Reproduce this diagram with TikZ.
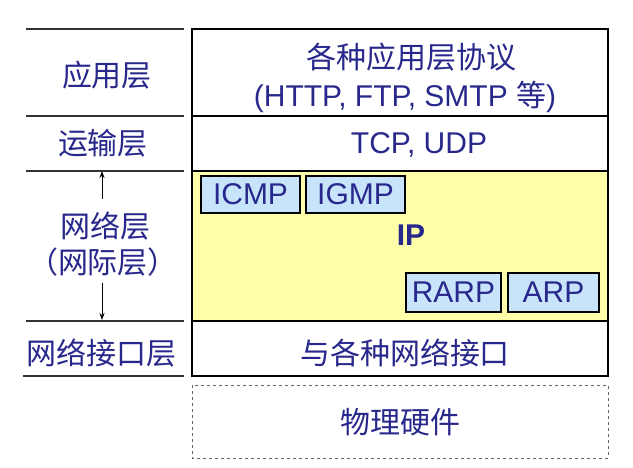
\documentclass[tikz,border=0pt]{standalone}
\usepackage{fontspec}
\setmainfont{Liberation Sans}
\newfontfamily\cjk{Noto Sans CJK SC}
\usetikzlibrary{arrows.meta}
\definecolor{txtblue}{RGB}{40,40,140}
\definecolor{ipyellow}{RGB}{255,255,170}
\definecolor{protoblue}{RGB}{200,228,250}
\def\fs{\fontsize{30}{36}\selectfont}

\begin{document}
\begin{tikzpicture}[x=1pt,y=-1pt,font=\fs,text=txtblue,
  sepline/.style={line width=1.2pt,black!80},
  layerline/.style={line width=2.6pt,black},
  proto/.style={draw=black,line width=1.4pt,fill=protoblue,
    minimum height=37pt,inner sep=0pt},
  tip/.style={-{Stealth[length=7pt,width=5pt]},line width=1pt}]
\useasboundingbox (0,0) rectangle (633,468);

% network layer background
\fill[ipyellow] (192,171) rectangle (608,321);

% left column
\foreach \y in {29,116,171,321}{
	\draw[sepline] (26,\y) -- (184,\y);
}
\draw[sepline] (23,376) -- (184,376);
\node (appl) at (107,75) {\cjk 应用层};
\node (tranl) at (103,143) {\cjk 运输层};
\node (netl) at (105,226) {\cjk 网络层};
\node (netl2) at (103,262) {\cjk （网际层）};
\node (ifl) at (102,353) {\cjk 网络接口层};

\coordinate (netup) at (102,199);
\coordinate (nettop) at (102,171);
\coordinate (netdown) at (102,283);
\coordinate (netbot) at (102,320);
\draw[tip] (netup) -- (nettop);
\draw[tip] (netdown) -- (netbot);

% protocol stack
\draw[layerline] (192,29) rectangle (608,376);
\foreach \y in {116,171,321}{
	\draw[layerline] (192,\y) -- (608,\y);
}
\node (app1) at (411,57) {\cjk 各种应用层协议};
\node (app2) at (405,97) {(HTTP, FTP, SMTP {\cjk 等})};
\node (tcp) at (419,145) {TCP, UDP};
\node[font=\fs\bfseries] (ip) at (411,235) {IP};
\node[proto,minimum width=99pt] (icmp) at (250.5,194.5) {ICMP};
\node[proto,minimum width=99pt] (igmp) at (355.5,194.5) {IGMP};
\node[proto,minimum width=95pt,minimum height=39pt] (rarp) at (453.5,292.5) {RARP};
\node[proto,minimum width=91pt,minimum height=39pt] (arp) at (553.5,292.5) {ARP};
\node (iface) at (405,353) {\cjk 与各种网络接口};

% physical hardware
\draw[dashed,black!60,line width=0.8pt] (192,385) rectangle (608,458);
\node (phys) at (400,422) {\cjk 物理硬件};
\end{tikzpicture}
\end{document}
